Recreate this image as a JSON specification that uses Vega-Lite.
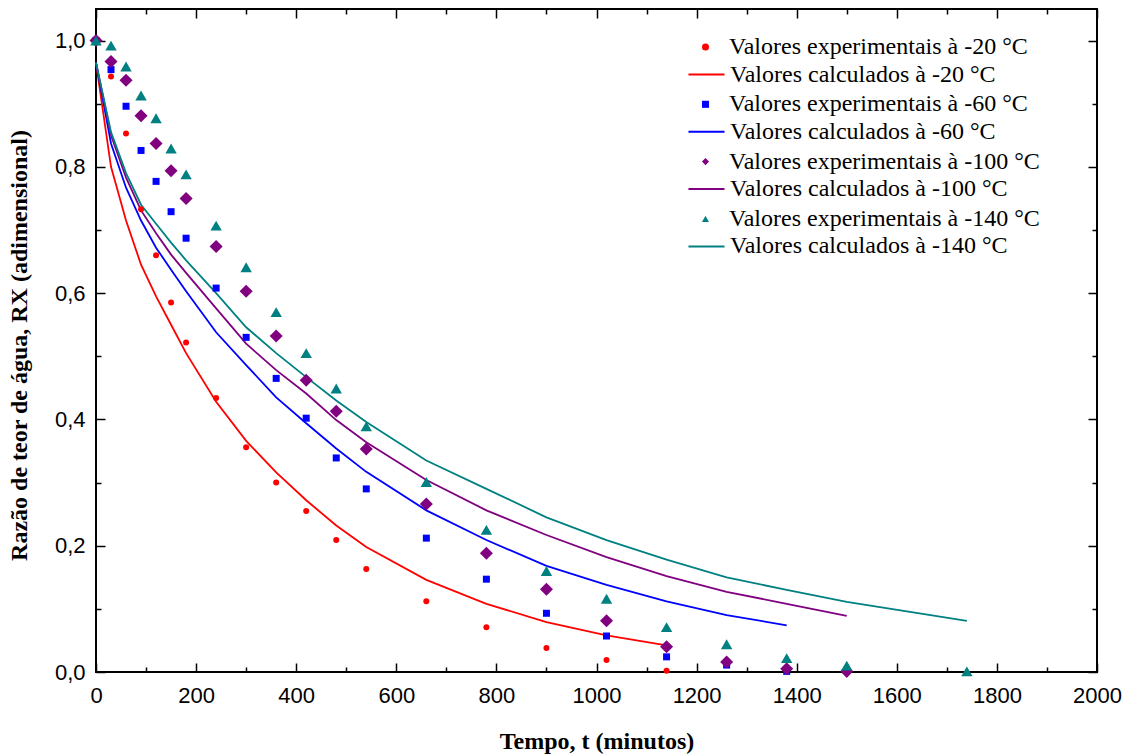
{
  "$schema": "https://vega.github.io/schema/vega-lite/v6.json",
  "autosize": "none",
  "width": 1001,
  "height": 663,
  "padding": {"left": 96, "top": 9, "right": 32, "bottom": 84},
  "background": "white",
  "config": {
    "view": {"stroke": "black", "strokeWidth": 2},
    "axis": {
      "domain": false,
      "grid": false,
      "labelFlush": false,
      "tickColor": "black",
      "tickWidth": 1.5,
      "labelFont": "Liberation Sans",
      "labelFontSize": 22,
      "labelColor": "black",
      "titleFont": "Liberation Serif",
      "titleFontSize": 24,
      "titleFontWeight": "bold",
      "titleColor": "black"
    },
    "legend": {
      "orient": "none", "title": null, "padding": 0, "offset": 0,
      "labelFont": "Liberation Serif", "labelFontSize": 24, "labelColor": "black",
      "labelLimit": 600, "rowPadding": 33.3
    }
  },
  "data": {
    "values": [
      {"t": 0, "rx": 1.0, "serie": "Valores experimentais à -20 °C"},
      {"t": 30, "rx": 0.943, "serie": "Valores experimentais à -20 °C"},
      {"t": 60, "rx": 0.853, "serie": "Valores experimentais à -20 °C"},
      {"t": 90, "rx": 0.733, "serie": "Valores experimentais à -20 °C"},
      {"t": 120, "rx": 0.66, "serie": "Valores experimentais à -20 °C"},
      {"t": 150, "rx": 0.585, "serie": "Valores experimentais à -20 °C"},
      {"t": 180, "rx": 0.522, "serie": "Valores experimentais à -20 °C"},
      {"t": 240, "rx": 0.434, "serie": "Valores experimentais à -20 °C"},
      {"t": 300, "rx": 0.356, "serie": "Valores experimentais à -20 °C"},
      {"t": 360, "rx": 0.3, "serie": "Valores experimentais à -20 °C"},
      {"t": 420, "rx": 0.255, "serie": "Valores experimentais à -20 °C"},
      {"t": 480, "rx": 0.209, "serie": "Valores experimentais à -20 °C"},
      {"t": 540, "rx": 0.163, "serie": "Valores experimentais à -20 °C"},
      {"t": 660, "rx": 0.112, "serie": "Valores experimentais à -20 °C"},
      {"t": 780, "rx": 0.071, "serie": "Valores experimentais à -20 °C"},
      {"t": 900, "rx": 0.038, "serie": "Valores experimentais à -20 °C"},
      {"t": 1020, "rx": 0.019, "serie": "Valores experimentais à -20 °C"},
      {"t": 1140, "rx": 0.002, "serie": "Valores experimentais à -20 °C"},

      {"t": 0, "rx": 1.0, "serie": "Valores experimentais à -60 °C"},
      {"t": 30, "rx": 0.954, "serie": "Valores experimentais à -60 °C"},
      {"t": 60, "rx": 0.896, "serie": "Valores experimentais à -60 °C"},
      {"t": 90, "rx": 0.826, "serie": "Valores experimentais à -60 °C"},
      {"t": 120, "rx": 0.777, "serie": "Valores experimentais à -60 °C"},
      {"t": 150, "rx": 0.729, "serie": "Valores experimentais à -60 °C"},
      {"t": 180, "rx": 0.687, "serie": "Valores experimentais à -60 °C"},
      {"t": 240, "rx": 0.608, "serie": "Valores experimentais à -60 °C"},
      {"t": 300, "rx": 0.53, "serie": "Valores experimentais à -60 °C"},
      {"t": 360, "rx": 0.465, "serie": "Valores experimentais à -60 °C"},
      {"t": 420, "rx": 0.402, "serie": "Valores experimentais à -60 °C"},
      {"t": 480, "rx": 0.339, "serie": "Valores experimentais à -60 °C"},
      {"t": 540, "rx": 0.29, "serie": "Valores experimentais à -60 °C"},
      {"t": 660, "rx": 0.212, "serie": "Valores experimentais à -60 °C"},
      {"t": 780, "rx": 0.147, "serie": "Valores experimentais à -60 °C"},
      {"t": 900, "rx": 0.093, "serie": "Valores experimentais à -60 °C"},
      {"t": 1020, "rx": 0.057, "serie": "Valores experimentais à -60 °C"},
      {"t": 1140, "rx": 0.024, "serie": "Valores experimentais à -60 °C"},
      {"t": 1260, "rx": 0.011, "serie": "Valores experimentais à -60 °C"},
      {"t": 1380, "rx": 0.001, "serie": "Valores experimentais à -60 °C"},

      {"t": 0, "rx": 1.0, "serie": "Valores experimentais à -100 °C"},
      {"t": 30, "rx": 0.967, "serie": "Valores experimentais à -100 °C"},
      {"t": 60, "rx": 0.937, "serie": "Valores experimentais à -100 °C"},
      {"t": 90, "rx": 0.881, "serie": "Valores experimentais à -100 °C"},
      {"t": 120, "rx": 0.837, "serie": "Valores experimentais à -100 °C"},
      {"t": 150, "rx": 0.794, "serie": "Valores experimentais à -100 °C"},
      {"t": 180, "rx": 0.75, "serie": "Valores experimentais à -100 °C"},
      {"t": 240, "rx": 0.674, "serie": "Valores experimentais à -100 °C"},
      {"t": 300, "rx": 0.603, "serie": "Valores experimentais à -100 °C"},
      {"t": 360, "rx": 0.532, "serie": "Valores experimentais à -100 °C"},
      {"t": 420, "rx": 0.462, "serie": "Valores experimentais à -100 °C"},
      {"t": 480, "rx": 0.413, "serie": "Valores experimentais à -100 °C"},
      {"t": 540, "rx": 0.353, "serie": "Valores experimentais à -100 °C"},
      {"t": 660, "rx": 0.266, "serie": "Valores experimentais à -100 °C"},
      {"t": 780, "rx": 0.188, "serie": "Valores experimentais à -100 °C"},
      {"t": 900, "rx": 0.131, "serie": "Valores experimentais à -100 °C"},
      {"t": 1020, "rx": 0.081, "serie": "Valores experimentais à -100 °C"},
      {"t": 1140, "rx": 0.04, "serie": "Valores experimentais à -100 °C"},
      {"t": 1260, "rx": 0.016, "serie": "Valores experimentais à -100 °C"},
      {"t": 1380, "rx": 0.005, "serie": "Valores experimentais à -100 °C"},
      {"t": 1500, "rx": 0.001, "serie": "Valores experimentais à -100 °C"},

      {"t": 0, "rx": 1.0, "serie": "Valores experimentais à -140 °C"},
      {"t": 30, "rx": 0.992, "serie": "Valores experimentais à -140 °C"},
      {"t": 60, "rx": 0.959, "serie": "Valores experimentais à -140 °C"},
      {"t": 90, "rx": 0.913, "serie": "Valores experimentais à -140 °C"},
      {"t": 120, "rx": 0.877, "serie": "Valores experimentais à -140 °C"},
      {"t": 150, "rx": 0.829, "serie": "Valores experimentais à -140 °C"},
      {"t": 180, "rx": 0.788, "serie": "Valores experimentais à -140 °C"},
      {"t": 240, "rx": 0.707, "serie": "Valores experimentais à -140 °C"},
      {"t": 300, "rx": 0.641, "serie": "Valores experimentais à -140 °C"},
      {"t": 360, "rx": 0.57, "serie": "Valores experimentais à -140 °C"},
      {"t": 420, "rx": 0.505, "serie": "Valores experimentais à -140 °C"},
      {"t": 480, "rx": 0.449, "serie": "Valores experimentais à -140 °C"},
      {"t": 540, "rx": 0.389, "serie": "Valores experimentais à -140 °C"},
      {"t": 660, "rx": 0.301, "serie": "Valores experimentais à -140 °C"},
      {"t": 780, "rx": 0.225, "serie": "Valores experimentais à -140 °C"},
      {"t": 900, "rx": 0.16, "serie": "Valores experimentais à -140 °C"},
      {"t": 1020, "rx": 0.116, "serie": "Valores experimentais à -140 °C"},
      {"t": 1140, "rx": 0.071, "serie": "Valores experimentais à -140 °C"},
      {"t": 1260, "rx": 0.044, "serie": "Valores experimentais à -140 °C"},
      {"t": 1380, "rx": 0.022, "serie": "Valores experimentais à -140 °C"},
      {"t": 1500, "rx": 0.01, "serie": "Valores experimentais à -140 °C"},
      {"t": 1740, "rx": 0.001, "serie": "Valores experimentais à -140 °C"},

      {"t": 0, "rx": 0.965, "curva": "Valores calculados à -20 °C"},
      {"t": 30, "rx": 0.8, "curva": "Valores calculados à -20 °C"},
      {"t": 60, "rx": 0.715, "curva": "Valores calculados à -20 °C"},
      {"t": 90, "rx": 0.645, "curva": "Valores calculados à -20 °C"},
      {"t": 120, "rx": 0.595, "curva": "Valores calculados à -20 °C"},
      {"t": 150, "rx": 0.55, "curva": "Valores calculados à -20 °C"},
      {"t": 180, "rx": 0.505, "curva": "Valores calculados à -20 °C"},
      {"t": 240, "rx": 0.428, "curva": "Valores calculados à -20 °C"},
      {"t": 300, "rx": 0.366, "curva": "Valores calculados à -20 °C"},
      {"t": 360, "rx": 0.316, "curva": "Valores calculados à -20 °C"},
      {"t": 420, "rx": 0.272, "curva": "Valores calculados à -20 °C"},
      {"t": 480, "rx": 0.232, "curva": "Valores calculados à -20 °C"},
      {"t": 540, "rx": 0.198, "curva": "Valores calculados à -20 °C"},
      {"t": 660, "rx": 0.146, "curva": "Valores calculados à -20 °C"},
      {"t": 780, "rx": 0.108, "curva": "Valores calculados à -20 °C"},
      {"t": 900, "rx": 0.079, "curva": "Valores calculados à -20 °C"},
      {"t": 1020, "rx": 0.058, "curva": "Valores calculados à -20 °C"},
      {"t": 1140, "rx": 0.042, "curva": "Valores calculados à -20 °C"},

      {"t": 0, "rx": 0.965, "curva": "Valores calculados à -60 °C"},
      {"t": 30, "rx": 0.837, "curva": "Valores calculados à -60 °C"},
      {"t": 60, "rx": 0.767, "curva": "Valores calculados à -60 °C"},
      {"t": 90, "rx": 0.715, "curva": "Valores calculados à -60 °C"},
      {"t": 120, "rx": 0.672, "curva": "Valores calculados à -60 °C"},
      {"t": 150, "rx": 0.637, "curva": "Valores calculados à -60 °C"},
      {"t": 180, "rx": 0.603, "curva": "Valores calculados à -60 °C"},
      {"t": 240, "rx": 0.538, "curva": "Valores calculados à -60 °C"},
      {"t": 300, "rx": 0.486, "curva": "Valores calculados à -60 °C"},
      {"t": 360, "rx": 0.435, "curva": "Valores calculados à -60 °C"},
      {"t": 420, "rx": 0.394, "curva": "Valores calculados à -60 °C"},
      {"t": 480, "rx": 0.354, "curva": "Valores calculados à -60 °C"},
      {"t": 540, "rx": 0.317, "curva": "Valores calculados à -60 °C"},
      {"t": 660, "rx": 0.256, "curva": "Valores calculados à -60 °C"},
      {"t": 780, "rx": 0.209, "curva": "Valores calculados à -60 °C"},
      {"t": 900, "rx": 0.168, "curva": "Valores calculados à -60 °C"},
      {"t": 1020, "rx": 0.138, "curva": "Valores calculados à -60 °C"},
      {"t": 1140, "rx": 0.112, "curva": "Valores calculados à -60 °C"},
      {"t": 1260, "rx": 0.09, "curva": "Valores calculados à -60 °C"},
      {"t": 1380, "rx": 0.074, "curva": "Valores calculados à -60 °C"},

      {"t": 0, "rx": 0.965, "curva": "Valores calculados à -100 °C"},
      {"t": 30, "rx": 0.85, "curva": "Valores calculados à -100 °C"},
      {"t": 60, "rx": 0.783, "curva": "Valores calculados à -100 °C"},
      {"t": 90, "rx": 0.731, "curva": "Valores calculados à -100 °C"},
      {"t": 120, "rx": 0.695, "curva": "Valores calculados à -100 °C"},
      {"t": 150, "rx": 0.661, "curva": "Valores calculados à -100 °C"},
      {"t": 180, "rx": 0.632, "curva": "Valores calculados à -100 °C"},
      {"t": 240, "rx": 0.576, "curva": "Valores calculados à -100 °C"},
      {"t": 300, "rx": 0.52, "curva": "Valores calculados à -100 °C"},
      {"t": 360, "rx": 0.478, "curva": "Valores calculados à -100 °C"},
      {"t": 420, "rx": 0.441, "curva": "Valores calculados à -100 °C"},
      {"t": 480, "rx": 0.399, "curva": "Valores calculados à -100 °C"},
      {"t": 540, "rx": 0.364, "curva": "Valores calculados à -100 °C"},
      {"t": 660, "rx": 0.304, "curva": "Valores calculados à -100 °C"},
      {"t": 780, "rx": 0.256, "curva": "Valores calculados à -100 °C"},
      {"t": 900, "rx": 0.217, "curva": "Valores calculados à -100 °C"},
      {"t": 1020, "rx": 0.182, "curva": "Valores calculados à -100 °C"},
      {"t": 1140, "rx": 0.152, "curva": "Valores calculados à -100 °C"},
      {"t": 1260, "rx": 0.127, "curva": "Valores calculados à -100 °C"},
      {"t": 1380, "rx": 0.108, "curva": "Valores calculados à -100 °C"},
      {"t": 1500, "rx": 0.089, "curva": "Valores calculados à -100 °C"},

      {"t": 0, "rx": 0.965, "curva": "Valores calculados à -140 °C"},
      {"t": 30, "rx": 0.855, "curva": "Valores calculados à -140 °C"},
      {"t": 60, "rx": 0.79, "curva": "Valores calculados à -140 °C"},
      {"t": 90, "rx": 0.74, "curva": "Valores calculados à -140 °C"},
      {"t": 120, "rx": 0.71, "curva": "Valores calculados à -140 °C"},
      {"t": 150, "rx": 0.68, "curva": "Valores calculados à -140 °C"},
      {"t": 180, "rx": 0.652, "curva": "Valores calculados à -140 °C"},
      {"t": 240, "rx": 0.6, "curva": "Valores calculados à -140 °C"},
      {"t": 300, "rx": 0.546, "curva": "Valores calculados à -140 °C"},
      {"t": 360, "rx": 0.505, "curva": "Valores calculados à -140 °C"},
      {"t": 420, "rx": 0.467, "curva": "Valores calculados à -140 °C"},
      {"t": 480, "rx": 0.43, "curva": "Valores calculados à -140 °C"},
      {"t": 540, "rx": 0.396, "curva": "Valores calculados à -140 °C"},
      {"t": 660, "rx": 0.335, "curva": "Valores calculados à -140 °C"},
      {"t": 780, "rx": 0.29, "curva": "Valores calculados à -140 °C"},
      {"t": 900, "rx": 0.245, "curva": "Valores calculados à -140 °C"},
      {"t": 1020, "rx": 0.209, "curva": "Valores calculados à -140 °C"},
      {"t": 1140, "rx": 0.178, "curva": "Valores calculados à -140 °C"},
      {"t": 1260, "rx": 0.15, "curva": "Valores calculados à -140 °C"},
      {"t": 1380, "rx": 0.13, "curva": "Valores calculados à -140 °C"},
      {"t": 1500, "rx": 0.111, "curva": "Valores calculados à -140 °C"},
      {"t": 1740, "rx": 0.081, "curva": "Valores calculados à -140 °C"}
    ]
  },
  "layer": [
    {
      "transform": [{"filter": "isValid(datum.curva)"}],
      "mark": {"type": "line", "strokeWidth": 1.8, "interpolate": "linear"},
      "encoding": {
        "x": {
          "field": "t", "type": "quantitative",
          "scale": {"domain": [0, 2000], "nice": false},
          "axis": {
            "orient": "top", "labels": false, "title": null,
            "values": [0,100,200,300,400,500,600,700,800,900,1000,1100,1200,1300,1400,1500,1600,1700,1800,1900,2000],
            "tickSize": {"condition": {"test": "datum.value % 200 == 0", "value": -9}, "value": -5}
          }
        },
        "y": {
          "field": "rx", "type": "quantitative",
          "scale": {"domain": [0, 1.05], "nice": false},
          "axis": {
            "orient": "right", "labels": false, "title": null,
            "values": [0,0.1,0.2,0.3,0.4,0.5,0.6,0.7,0.8,0.9,1.0],
            "tickSize": {"condition": {"test": "round(datum.value*10) % 2 == 0", "value": -9}, "value": -5}
          }
        },
        "stroke": {
          "field": "curva", "type": "nominal",
          "scale": {
            "domain": ["Valores calculados à -20 °C", "Valores calculados à -60 °C", "Valores calculados à -100 °C", "Valores calculados à -140 °C"],
            "range": ["#ff0000", "#0000ff", "#800080", "#008080"]
          },
          "legend": {
            "legendX": 591, "legendY": 46,
            "symbolType": "stroke", "symbolSize": 1300, "symbolStrokeWidth": 2,
            "labelOffset": 4, "rowPadding": 25.3
          }
        },
        "detail": {"field": "curva"}
      }
    },
    {
      "transform": [{"filter": "isValid(datum.serie)"}],
      "mark": {"type": "point", "filled": true, "opacity": 1},
      "encoding": {
        "x": {
          "field": "t", "type": "quantitative",
          "axis": {
            "orient": "bottom",
            "title": "Tempo, t (minutos)",
            "titleY": 76, "titleBaseline": "alphabetic",
            "values": [0,100,200,300,400,500,600,700,800,900,1000,1100,1200,1300,1400,1500,1600,1700,1800,1900,2000],
            "labelExpr": "datum.value % 200 == 0 ? datum.label : ''",
            "format": "d",
            "labelPadding": 22,
            "tickSize": {"condition": {"test": "datum.value % 200 == 0", "value": -9}, "value": -5}
          }
        },
        "y": {
          "field": "rx", "type": "quantitative",
          "axis": {
            "orient": "left",
            "title": "Razão de teor de água, RX (adimensional)",
            "titleX": -70, "titleY": 336, "titleBaseline": "alphabetic", "titleAngle": -90,
            "values": [0,0.1,0.2,0.3,0.4,0.5,0.6,0.7,0.8,0.9,1.0],
            "labelExpr": "round(datum.value*10) % 2 == 0 ? replace(format(datum.value, '.1f'), '.', ',') : ''",
            "labelPadding": 20,
            "tickSize": {"condition": {"test": "round(datum.value*10) % 2 == 0", "value": -9}, "value": -5}
          }
        },
        "fill": {
          "field": "serie", "type": "nominal",
          "scale": {
            "domain": ["Valores experimentais à -20 °C", "Valores experimentais à -60 °C", "Valores experimentais à -100 °C", "Valores experimentais à -140 °C"],
            "range": ["#ff0000", "#0000ff", "#800080", "#008080"]
          },
          "legend": {
            "legendX": 597.5, "legendY": 26, "symbolSize": 50, "labelOffset": 11.5
          }
        },
        "shape": {
          "field": "serie", "type": "nominal",
          "scale": {
            "domain": ["Valores experimentais à -20 °C", "Valores experimentais à -60 °C", "Valores experimentais à -100 °C", "Valores experimentais à -140 °C"],
            "range": ["circle", "square", "diamond", "triangle-up"]
          },
          "legend": {
            "legendX": 597.5, "legendY": 26, "symbolSize": 50, "labelOffset": 11.5
          }
        },
        "size": {
          "condition": [
            {"test": "datum.serie == 'Valores experimentais à -20 °C'", "value": 36},
            {"test": "datum.serie == 'Valores experimentais à -60 °C'", "value": 49},
            {"test": "datum.serie == 'Valores experimentais à -100 °C'", "value": 170}
          ],
          "value": 130
        }
      }
    }
  ],
  "resolve": {"axis": {"x": "independent", "y": "independent"}}
}
